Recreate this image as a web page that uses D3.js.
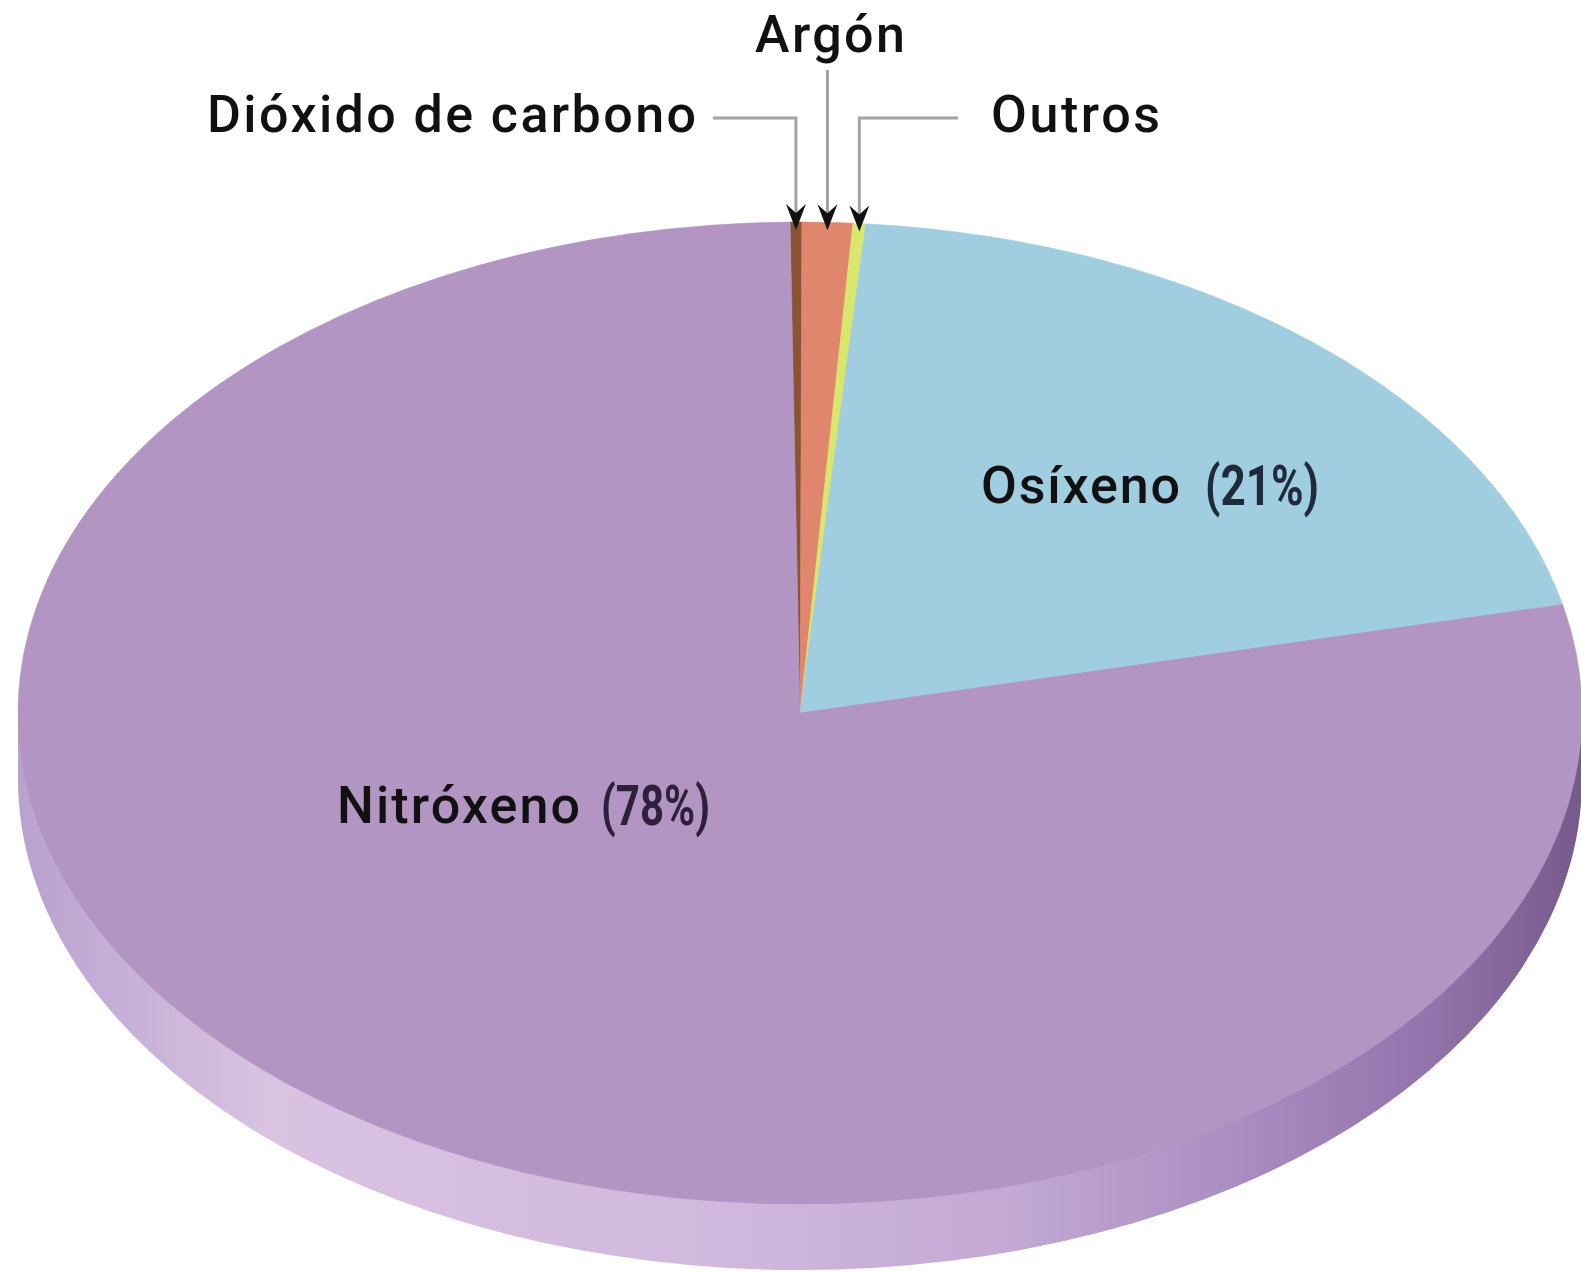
<!DOCTYPE html>
<html>
<head>
<meta charset="utf-8">
<script src="https://cdn.jsdelivr.net/npm/d3@7"></script>
<style>
  html, body { margin: 0; padding: 0; background: #fff; }
  svg { display: block; }
  text { font-family: Roboto, "Noto Sans", sans-serif; }
</style>
</head>
<body>
<div class="PieChart"></div>
<script>
// slices, clockwise from 12 o'clock (shares as drawn in the picture)
var categories = ["Dióxido de carbono", "Argón", "Outros", "Osíxeno", "Nitróxeno"];
var shares = [0.24, 1.04, 0.26, 20.1, 78.3];
var pctLabels = ["", "", "", "(21%)", "(78%)"];
var colors = ["#8a5433", "#e0866d", "#d8e66c", "#a0cde0", "#b295c3"];

var width = 1581, height = 1274;
var cx = 800, cy = 713, rx = 782, ry = 491, depth = 66;
var startAng = -0.0127;

var svg = d3.select(".PieChart").append("svg")
    .attr("width", width)
    .attr("height", height);

var defs = svg.append("defs");
var grad = defs.append("linearGradient")
    .attr("id", "wallGrad")
    .attr("gradientUnits", "userSpaceOnUse")
    .attr("x1", cx - rx).attr("x2", cx + rx)
    .attr("y1", 0).attr("y2", 0);
[[0, "#b9a1cf"], [0.16, "#d9c3e1"], [0.45, "#d1b8de"], [0.64, "#c2a8d3"],
 [0.77, "#ac8fc3"], [0.9, "#9374ac"], [1, "#775a8c"]].forEach(function(s){
  grad.append("stop").attr("offset", s[0]).attr("stop-color", s[1]);
});

var pie = d3.pie()
    .sort(null)
    .value(function(d){ return d; })
    .startAngle(startAng)
    .endAngle(startAng + 2 * Math.PI);

var arcs = pie(shares);

// side wall of the disc
var wall = svg.append("g");
wall.append("ellipse")
    .attr("cx", cx).attr("cy", cy + depth)
    .attr("rx", rx).attr("ry", ry)
    .attr("fill", "url(#wallGrad)");
wall.append("rect")
    .attr("x", cx - rx).attr("y", cy)
    .attr("width", 2 * rx).attr("height", depth)
    .attr("fill", "url(#wallGrad)");

// top face: a flat pie squashed into an ellipse
var arc = d3.arc().innerRadius(0).outerRadius(rx);

svg.append("g")
    .attr("transform", "translate(" + cx + "," + cy + ") scale(1," + (ry / rx) + ")")
  .selectAll("path")
    .data(arcs)
  .enter().append("path")
    .attr("d", arc)
    .attr("fill", function(d, i){ return colors[i]; })
    .attr("stroke", function(d, i){ return colors[i]; })
    .attr("stroke-width", 0.6);

// point on the rim for a given angle
function rim(a){
  return [cx + rx * Math.sin(a), cy - ry * Math.cos(a)];
}

// callouts for the thin slices
var callY = 118, lineColor = "#a2a2a2";
var callouts = [
  {i: 0, fromX: 713, fromY: callY},
  {i: 1, fromX: null, fromY: 70},
  {i: 2, fromX: 958, fromY: callY}
];

callouts.forEach(function(c){
  var d = arcs[c.i];
  var mid = (d.startAngle + d.endAngle) / 2;
  var p = rim(mid);
  var tipY = p[1] + 8;
  var x = p[0];
  var pts = [];
  if (c.fromX !== null) pts.push([c.fromX, c.fromY]);
  pts.push([x, c.fromY]);
  pts.push([x, tipY - 14]);
  svg.append("path")
      .attr("d", d3.line()(pts))
      .attr("fill", "none")
      .attr("stroke", lineColor)
      .attr("stroke-width", 3);
  svg.append("path")
      .attr("d", "M" + x + "," + tipY + "L" + (x - 10) + "," + (tipY - 26) +
                 "L" + x + "," + (tipY - 17) + "L" + (x + 10) + "," + (tipY - 26) + "Z")
      .attr("fill", "#111");
});

// outside labels
var fs = 52;
svg.append("text")
    .attr("x", 755).attr("y", 52)
    .attr("font-size", fs).attr("font-weight", 500).attr("fill", "#111")
    .attr("textLength", 150).attr("lengthAdjust", "spacing")
    .text(categories[1]);
svg.append("text")
    .attr("x", 207).attr("y", 132)
    .attr("font-size", fs).attr("font-weight", 500).attr("fill", "#111")
    .attr("textLength", 489).attr("lengthAdjust", "spacing")
    .text(categories[0]);
svg.append("text")
    .attr("x", 991).attr("y", 132)
    .attr("font-size", fs).attr("font-weight", 500).attr("fill", "#111")
    .attr("textLength", 169).attr("lengthAdjust", "spacing")
    .text(categories[2]);

// inside labels
var inside = [
  {i: 3, x: 981, y: 503, w: 199, px: 1205, pw: 114, pc: "#1f2b3b"},
  {i: 4, x: 337, y: 823, w: 243, px: 601, pw: 109, pc: "#2e1f3b"}
];
inside.forEach(function(l){
  svg.append("text")
      .attr("x", l.x).attr("y", l.y)
      .attr("font-size", fs).attr("font-weight", 500).attr("fill", "#111")
      .attr("textLength", l.w).attr("lengthAdjust", "spacing")
      .text(categories[l.i]);
  svg.append("text")
      .attr("x", l.px).attr("y", l.y + 2)
      .attr("font-size", 56).attr("font-weight", 700).attr("fill", l.pc)
      .attr("textLength", l.pw).attr("lengthAdjust", "spacingAndGlyphs")
      .text(pctLabels[l.i]);
});
</script>
</body>
</html>
